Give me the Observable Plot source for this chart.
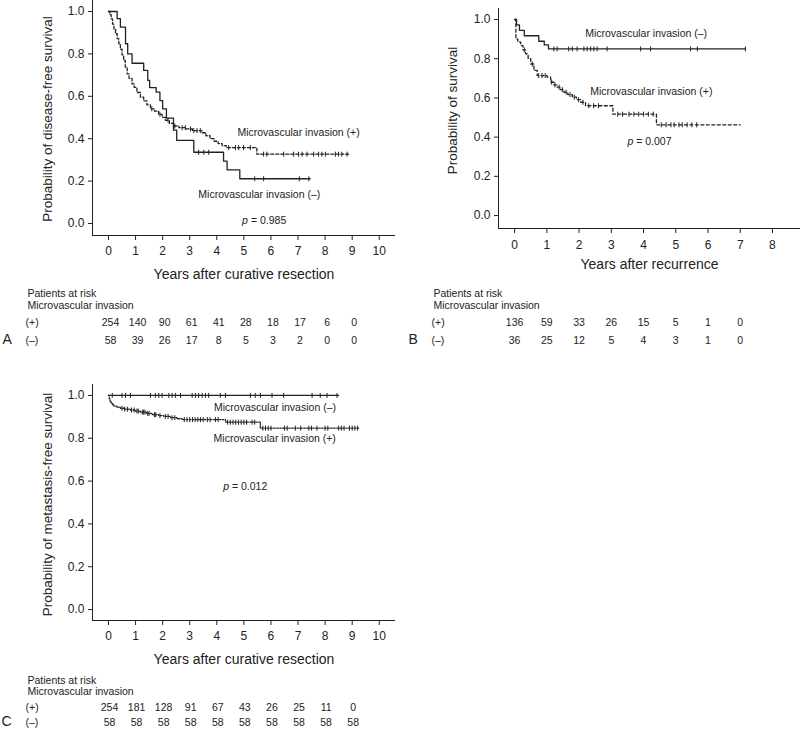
<!DOCTYPE html>
<html>
<head>
<meta charset="utf-8">
<script src="https://cdn.jsdelivr.net/npm/d3@7"></script>
<script src="https://cdn.jsdelivr.net/npm/@observablehq/plot@0.6"></script>
<style>
  html, body { margin: 0; padding: 0; background: #fff; }
  #root { position: relative; width: 800px; height: 736px; overflow: hidden; background: #fff; }
  #root svg { position: absolute; overflow: visible; }
</style>
</head>
<body>
<div id="root"></div>
<script>
// ---------------- Shared ticks ----------------
const yTicks = [0, 0.2, 0.4, 0.6, 0.8, 1.0];
const xTicks10 = [0, 1, 2, 3, 4, 5, 6, 7, 8, 9, 10];
const xTicks8 = [0, 1, 2, 3, 4, 5, 6, 7, 8];

// ---------------- Panel A: disease-free survival ----------------
const aPlusTime = [0, 0.05, 0.1, 0.15, 0.2, 0.26, 0.32, 0.38, 0.44, 0.5, 0.56, 0.62, 0.69, 0.76, 0.87, 0.95, 1.05, 1.18, 1.3, 1.42, 1.55, 1.7, 1.85, 1.98, 2.1, 2.25, 2.4, 2.6, 2.85, 3.1, 3.45, 3.6, 3.75, 3.9, 4.05, 4.2, 4.35, 5.48];
const aPlusSurv = [1, 0.985, 0.965, 0.94, 0.918, 0.895, 0.872, 0.848, 0.822, 0.795, 0.769, 0.738, 0.706, 0.685, 0.659, 0.642, 0.618, 0.596, 0.578, 0.56, 0.541, 0.53, 0.515, 0.501, 0.487, 0.472, 0.46, 0.452, 0.446, 0.438, 0.428, 0.414, 0.4, 0.388, 0.377, 0.367, 0.358, 0.327];
const aPlusEnd = 8.87;
const aPlusCensor = [1.6, 1.9, 2.2, 2.45, 2.72, 2.84, 3.03, 3.15, 3.27, 3.39, 4.44, 4.69, 4.81, 4.99, 5.24, 5.73, 5.85, 6.47, 6.84, 7.02, 7.15, 7.33, 7.58, 7.76, 7.88, 8.01, 8.38, 8.5, 8.62, 8.81];
const aMinusTime = [0, 0.32, 0.44, 0.63, 0.71, 0.87, 1.3, 1.45, 1.52, 1.76, 1.9, 2.0, 2.14, 2.4, 2.52, 3.15, 4.25, 4.38, 4.85];
const aMinusSurv = [1, 0.966, 0.926, 0.848, 0.8, 0.756, 0.722, 0.675, 0.641, 0.62, 0.58, 0.541, 0.497, 0.44, 0.392, 0.336, 0.294, 0.253, 0.211];
const aMinusEnd = 7.45;
const aMinusCensor = [3.33, 3.52, 3.7, 5.4, 5.73, 7.05, 7.4];
const aRiskYears = [0, 1, 2, 3, 4, 5, 6, 7, 8, 9];
const aRiskPlus = [254, 140, 90, 61, 41, 28, 18, 17, 6, 0];
const aRiskMinus = [58, 39, 26, 17, 8, 5, 3, 2, 0, 0];

// ---------------- Panel B: survival after recurrence ----------------
const bPlusTime = [0, 0.04, 0.1, 0.19, 0.26, 0.34, 0.42, 0.5, 0.6, 0.7, 1.01, 1.12, 1.22, 1.32, 1.42, 1.53, 1.65, 1.79, 1.92, 2.05, 2.2, 3.05, 4.4];
const bPlusSurv = [1, 0.9, 0.885, 0.867, 0.845, 0.825, 0.8, 0.773, 0.74, 0.714, 0.706, 0.68, 0.667, 0.655, 0.642, 0.629, 0.617, 0.604, 0.591, 0.578, 0.56, 0.517, 0.463];
const bPlusEnd = 7.0;
const bPlusCensor = [0.3, 0.55, 0.75, 0.85, 0.95, 1.15, 1.25, 1.38, 1.48, 1.6, 1.72, 1.85, 1.98, 2.12, 2.3, 2.45, 2.6, 3.2, 3.35, 3.55, 3.7, 3.85, 4.0, 4.15, 4.3, 4.55, 4.7, 4.85, 4.95, 5.1, 5.2, 5.35, 5.5, 5.65];
const bMinusTime = [0, 0.06, 0.15, 0.3, 0.75, 0.92, 1.05];
const bMinusSurv = [1, 0.972, 0.944, 0.917, 0.889, 0.87, 0.85];
const bMinusEnd = 7.16;
const bMinusCensor = [1.22, 1.32, 1.68, 1.79, 1.94, 2.15, 2.25, 2.36, 2.46, 2.56, 2.87, 3.91, 4.22, 5.46, 5.67, 7.16];
const bRiskYears = [0, 1, 2, 3, 4, 5, 6, 7];
const bRiskPlus = [136, 59, 33, 26, 15, 5, 1, 0];
const bRiskMinus = [36, 25, 12, 5, 4, 3, 1, 0];

// ---------------- Panel C: metastasis-free survival ----------------
const cPlusTime = [0, 0.03, 0.06, 0.1, 0.15, 0.2, 0.3, 0.44, 0.6, 0.81, 1.0, 1.18, 1.4, 1.61, 1.85, 2.04, 2.3, 2.53, 2.72, 4.32, 5.61];
const cPlusSurv = [1, 0.985, 0.972, 0.963, 0.957, 0.95, 0.945, 0.94, 0.936, 0.932, 0.927, 0.922, 0.916, 0.91, 0.906, 0.902, 0.896, 0.891, 0.887, 0.875, 0.847];
const cPlusEnd = 9.24;
const cPlusCensor = [0.5, 0.6, 0.7, 0.85, 0.95, 1.05, 1.1, 1.25, 1.3, 1.35, 1.45, 1.5, 1.7, 1.75, 1.9, 2.1, 2.2, 2.35, 2.45, 2.8, 2.9, 3.0, 3.1, 3.2, 3.3, 3.4, 3.5, 3.65, 3.75, 3.95, 4.05, 4.4, 4.5, 4.6, 4.7, 4.8, 4.9, 5.0, 5.1, 5.3, 5.4, 5.7, 5.8, 5.9, 6.0, 6.5, 6.6, 6.9, 7.1, 7.4, 7.5, 7.7, 8.0, 8.1, 8.5, 8.6, 8.7, 8.9, 9.0, 9.1, 9.2];
const cMinusTime = [0];
const cMinusSurv = [1];
const cMinusEnd = 8.5;
const cMinusCensor = [0.14, 0.5, 0.63, 0.81, 1.55, 1.73, 1.86, 1.98, 2.23, 2.35, 2.47, 2.66, 3.09, 3.21, 3.33, 3.46, 3.58, 3.7, 4.13, 4.32, 5.24, 5.42, 5.61, 6.04, 6.47, 7.52, 7.82, 8.07, 8.44];
const cRiskYears = [0, 1, 2, 3, 4, 5, 6, 7, 8, 9];
const cRiskPlus = [254, 181, 128, 91, 67, 43, 26, 25, 11, 0];
const cRiskMinus = [58, 58, 58, 58, 58, 58, 58, 58, 58, 58];

// ---------------- Helpers ----------------
const INK = "#222";
const FONT = '"Liberation Sans", Arial, Helvetica, sans-serif';
const vtick = { draw(ctx, size) { const r = Math.sqrt(size / Math.PI); ctx.moveTo(0, -r); ctx.lineTo(0, r); } };

function survAt(times, surv, t) {
  let s = surv[0];
  for (let i = 0; i < times.length; i++) if (times[i] <= t) s = surv[i];
  return s;
}
function curvePoints(times, surv, end) {
  const pts = times.map((t, i) => ({ t, s: surv[i] }));
  pts.push({ t: end, s: surv[surv.length - 1] });
  return pts;
}
function censorPoints(times, surv, cens) {
  return cens.map(t => ({ t, s: survAt(times, surv, t) }));
}

function buildPanel(p) {
  const marginBottom = p.height - p.marginTop - p.frameH;
  const marks = [
    Plot.ruleX([p.xDomain[0]], { stroke: INK, strokeWidth: 1 }),
    Plot.ruleY([p.yDomain[0]], { stroke: INK, strokeWidth: 1 }),
    Plot.axisY({ ticks: yTicks, tickFormat: d3.format(".1f"), tickSize: 4, tickPadding: 4, fontSize: 12, label: null }),
    Plot.axisX({ ticks: p.xTicks, tickFormat: d => String(d), tickSize: 5, tickPadding: p.tickPad, fontSize: 12, label: null })
  ];
  for (const c of p.curves) {
    marks.push(Plot.line(curvePoints(c.time, c.surv, c.end), {
      x: "t", y: "s", curve: "step-after", stroke: INK, strokeWidth: 1.3, strokeDasharray: c.dash
    }));
    marks.push(Plot.dot(censorPoints(c.time, c.surv, c.censor), {
      x: "t", y: "s", symbol: vtick, r: 2.5, stroke: INK, strokeWidth: 1, fill: "none"
    }));
  }
  for (const l of p.labels) {
    marks.push(Plot.text([l], { x: "x", y: "y", text: "text", fontSize: 10.5, fill: INK }));
  }
  // p-value: italic p + rest
  marks.push(Plot.text([p.pval], { x: "x", y: "y", text: () => "p", textAnchor: "end", fontStyle: "italic", fontSize: 10.5, fill: INK }));
  marks.push(Plot.text([p.pval], { x: "x", y: "y", text: "text", textAnchor: "start", dx: 3, fontSize: 10.5, fill: INK }));
  // axis titles
  marks.push(Plot.text([p.xTitle], { text: d => d, frameAnchor: "bottom", textAnchor: "middle", dy: p.xTitleDy, fontSize: 14, fill: INK }));
  marks.push(Plot.text([p.yTitle], { text: d => d, frameAnchor: "left", textAnchor: "middle", rotate: -90, dx: p.yTitleDx, dy: p.yTitleDy, fontSize: 13.5, fill: INK }));
  // risk table
  const r = p.risk;
  marks.push(Plot.text(["Patients at risk"], { text: d => d, frameAnchor: "bottom-left", textAnchor: "start", dx: -65, dy: r.dy[0], fontSize: 10.5, fill: INK }));
  marks.push(Plot.text(["Microvascular invasion"], { text: d => d, frameAnchor: "bottom-left", textAnchor: "start", dx: -65, dy: r.dy[1], fontSize: 10.5, fill: INK }));
  marks.push(Plot.text(["(+)"], { text: d => d, frameAnchor: "bottom-left", textAnchor: "start", dx: -67, dy: r.dy[2], fontSize: 10.5, fill: INK }));
  marks.push(Plot.text(["(\u2013)"], { text: d => d, frameAnchor: "bottom-left", textAnchor: "start", dx: -67, dy: r.dy[3], fontSize: 10.5, fill: INK }));
  marks.push(Plot.text([p.letter], { text: d => d, frameAnchor: "bottom-left", textAnchor: "start", dx: p.letterDx, dy: r.dy[3], fontSize: 14, fill: INK }));
  marks.push(Plot.text(r.years, { x: d => d, text: (d, i) => String(r.plus[i]), frameAnchor: "bottom", dx: r.dx, dy: r.dy[2], fontSize: 10.5, fill: INK }));
  marks.push(Plot.text(r.years, { x: d => d, text: (d, i) => String(r.minus[i]), frameAnchor: "bottom", dx: r.dx, dy: r.dy[3], fontSize: 10.5, fill: INK }));

  const svg = Plot.plot({
    width: p.width, height: p.height,
    marginLeft: p.marginLeft, marginRight: p.marginRight, marginTop: p.marginTop, marginBottom,
    x: { domain: p.xDomain },
    y: { domain: p.yDomain },
    style: { fontFamily: FONT, fontSize: "12px", color: INK, background: "transparent", overflow: "visible" },
    marks
  });
  svg.style.left = p.left + "px";
  svg.style.top = p.top + "px";
  return svg;
}

const root = document.getElementById("root");

root.appendChild(buildPanel({
  left: 0, top: 0, width: 400, height: 360,
  marginLeft: 92, marginRight: 5, marginTop: 0, frameH: 235,
  xDomain: [-0.59, 10.6], yDomain: [-0.0566, 1.0519], xTicks: xTicks10, tickPad: 6,
  curves: [
    { time: aPlusTime, surv: aPlusSurv, end: aPlusEnd, censor: aPlusCensor, dash: "3,2" },
    { time: aMinusTime, surv: aMinusSurv, end: aMinusEnd, censor: aMinusCensor, dash: null }
  ],
  labels: [
    { x: 7.02, y: 0.43, text: "Microvascular invasion (+)" },
    { x: 5.57, y: 0.137, text: "Microvascular invasion (\u2013)" }
  ],
  pval: { x: 5.15, y: 0.014, text: "= 0.985" },
  xTitle: "Years after curative resection", xTitleDy: 43,
  yTitle: "Probability of disease-free survival", yTitleDx: -45, yTitleDy: 1,
  risk: { years: aRiskYears, plus: aRiskPlus, minus: aRiskMinus, dx: 2, dy: [61, 73, 90, 108] },
  letter: "A", letterDx: -90
}));

root.appendChild(buildPanel({
  left: 400, top: 0, width: 400, height: 360,
  marginLeft: 98, marginRight: 0, marginTop: 8, frameH: 220,
  xDomain: [-0.5, 8.87], yDomain: [-0.066, 1.056], xTicks: xTicks8, tickPad: 7,
  curves: [
    { time: bPlusTime, surv: bPlusSurv, end: bPlusEnd, censor: bPlusCensor, dash: "3,2.5" },
    { time: bMinusTime, surv: bMinusSurv, end: bMinusEnd, censor: bMinusCensor, dash: null }
  ],
  labels: [
    { x: 4.08, y: 0.927, text: "Microvascular invasion (\u2013)" },
    { x: 4.24, y: 0.633, text: "Microvascular invasion (+)" }
  ],
  pval: { x: 3.68, y: 0.378, text: "= 0.007" },
  xTitle: "Years after recurrence", xTitleDy: 40,
  yTitle: "Probability of survival", yTitleDx: -46, yTitleDy: -8,
  risk: { years: bRiskYears, plus: bRiskPlus, minus: bRiskMinus, dx: 0, dy: [68, 80, 97, 115] },
  letter: "B", letterDx: -90
}));

root.appendChild(buildPanel({
  left: 0, top: 384, width: 400, height: 352,
  marginLeft: 92, marginRight: 5, marginTop: 0, frameH: 236,
  xDomain: [-0.59, 10.6], yDomain: [-0.051, 1.051], xTicks: xTicks10, tickPad: 6,
  curves: [
    { time: cPlusTime, surv: cPlusSurv, end: cPlusEnd, censor: cPlusCensor, dash: "1.5,1.5" },
    { time: cMinusTime, surv: cMinusSurv, end: cMinusEnd, censor: cMinusCensor, dash: null }
  ],
  labels: [
    { x: 6.15, y: 0.945, text: "Microvascular invasion (\u2013)" },
    { x: 6.14, y: 0.798, text: "Microvascular invasion (+)" }
  ],
  pval: { x: 4.45, y: 0.575, text: "= 0.012" },
  xTitle: "Years after curative resection", xTitleDy: 43,
  yTitle: "Probability of metastasis-free survival", yTitleDx: -45, yTitleDy: 2,
  risk: { years: cRiskYears, plus: cRiskPlus, minus: cRiskMinus, dx: 1, dy: [63, 74, 90, 105] },
  letter: "C", letterDx: -91
}));
</script>
</body>
</html>
